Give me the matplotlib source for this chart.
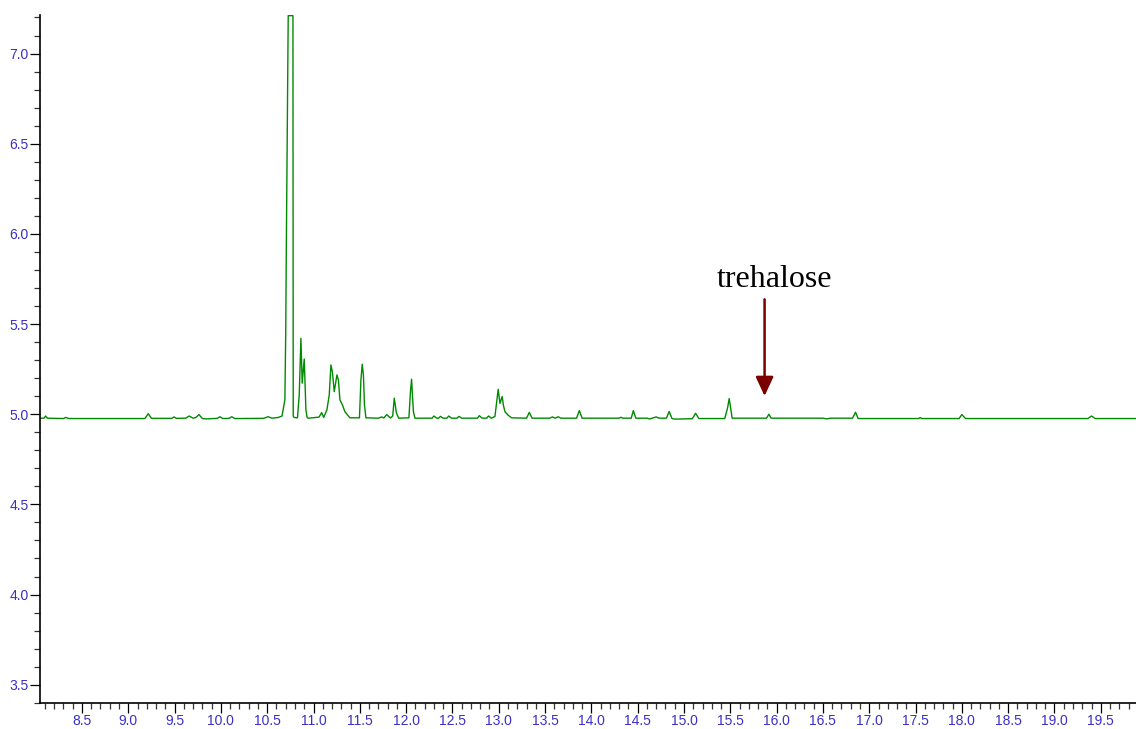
# -*- coding: utf-8 -*-
"""
GC chromatogram with the trehalose peak marked
- green trace, flat-topped solvent peak cut at the top of the axis
- blue tick labels, only left/bottom spines
"""

import matplotlib.pyplot as plt
from matplotlib.ticker import MultipleLocator

# retention time (min)
retention_time = [
    8.05, 8.09, 8.108, 8.125, 8.30, 8.324, 8.36, 9.18, 9.216, 9.25,
    9.47, 9.493, 9.52, 9.62, 9.658, 9.70, 9.73, 9.763, 9.80, 9.84,
    9.96, 9.99, 10.02, 10.09, 10.116, 10.15, 10.46, 10.511, 10.55, 10.62,
    10.66, 10.691, 10.700, 10.708, 10.718, 10.727, 10.778, 10.781, 10.79, 10.827,
    10.846, 10.864, 10.878, 10.900, 10.918, 10.932, 10.95, 11.06, 11.088, 11.11,
    11.145, 11.170, 11.188, 11.204, 11.224, 11.253, 11.269, 11.285, 11.312, 11.339,
    11.393, 11.496, 11.512, 11.526, 11.539, 11.550, 11.566, 11.70, 11.735, 11.76,
    11.79, 11.83, 11.855, 11.872, 11.895, 11.92, 12.03, 12.048, 12.059, 12.068,
    12.079, 12.095, 12.28, 12.30, 12.33, 12.35, 12.37, 12.40, 12.44, 12.46,
    12.49, 12.55, 12.57, 12.60, 12.77, 12.79, 12.82, 12.87, 12.89, 12.92,
    12.959, 12.980, 12.994, 13.013, 13.037, 13.050, 13.067, 13.100, 13.139, 13.30,
    13.33, 13.36, 13.55, 13.58, 13.61, 13.64, 13.67, 13.84, 13.87, 13.90,
    14.30, 14.32, 14.34, 14.43, 14.453, 14.48, 14.60, 14.63, 14.70, 14.73,
    14.81, 14.84, 14.87, 14.90, 15.09, 15.125, 15.16, 15.44, 15.471, 15.488,
    15.505, 15.52, 15.89, 15.917, 15.94, 16.50, 16.54, 16.58, 16.82, 16.852,
    16.88, 17.53, 17.55, 17.57, 17.97, 18.00, 18.04, 19.36, 19.40, 19.44,
    19.88,
]
signal = [
    4.978, 4.978, 4.990, 4.978, 4.976, 4.982, 4.976, 4.976, 5.003, 4.977,
    4.977, 4.985, 4.977, 4.978, 4.990, 4.978, 4.982, 4.998, 4.976, 4.974,
    4.977, 4.986, 4.976, 4.977, 4.986, 4.976, 4.977, 4.986, 4.978, 4.982,
    4.990, 5.080, 5.450, 6.020, 6.620, 7.210, 7.210, 4.990, 4.982, 4.980,
    5.107, 5.421, 5.172, 5.306, 5.024, 4.980, 4.978, 4.984, 5.009, 4.982,
    5.025, 5.107, 5.273, 5.234, 5.125, 5.218, 5.190, 5.080, 5.052, 5.014,
    4.980, 4.980, 5.190, 5.277, 5.218, 5.052, 4.980, 4.978, 4.985, 4.979,
    4.998, 4.979, 4.990, 5.089, 5.007, 4.978, 4.980, 5.135, 5.194, 5.107,
    5.013, 4.978, 4.978, 4.990, 4.978, 4.978, 4.988, 4.978, 4.978, 4.990,
    4.978, 4.978, 4.988, 4.978, 4.978, 4.992, 4.978, 4.978, 4.990, 4.978,
    4.988, 5.080, 5.138, 5.060, 5.098, 5.050, 5.014, 4.995, 4.980, 4.978,
    5.010, 4.978, 4.978, 4.985, 4.978, 4.986, 4.978, 4.978, 5.020, 4.978,
    4.978, 4.983, 4.978, 4.978, 5.020, 4.978, 4.978, 4.974, 4.985, 4.978,
    4.978, 5.015, 4.976, 4.973, 4.975, 5.005, 4.976, 4.976, 5.037, 5.087,
    5.030, 4.978, 4.978, 5.000, 4.978, 4.978, 4.974, 4.978, 4.978, 5.011,
    4.976, 4.976, 4.981, 4.976, 4.976, 4.998, 4.976, 4.976, 4.990, 4.976,
    4.976,
]

# annotation
label_text = 'trehalose'
label_pos = (15.98, 5.705)
arrow_tail = (15.87, 5.637)
arrow_tip = (15.87, 5.101)

TICK_COLOR = '#3a2ec8'
LINE_COLOR = '#008a00'


def create_chromatogram():
    fig = plt.figure(figsize=(11.36, 7.29), dpi=100)
    ax = fig.add_axes([0.0352, 0.036, 0.9648, 0.943])

    # trace
    ax.plot(retention_time, signal, color=LINE_COLOR, linewidth=1.0)

    # axis ranges
    ax.set_xlim(8.047, 19.88)
    ax.set_ylim(3.40, 7.212)

    # ticks: majors every 0.5, minors every 0.1
    ax.xaxis.set_major_locator(MultipleLocator(0.5))
    ax.xaxis.set_minor_locator(MultipleLocator(0.1))
    ax.yaxis.set_major_locator(MultipleLocator(0.5))
    ax.yaxis.set_minor_locator(MultipleLocator(0.1))
    ax.xaxis.set_major_formatter(plt.FormatStrFormatter('%.1f'))
    ax.yaxis.set_major_formatter(plt.FormatStrFormatter('%.1f'))

    for axis in (ax.xaxis, ax.yaxis):
        axis.set_tick_params(which='major', length=7.2, width=0.9,
                             color='black', labelcolor=TICK_COLOR,
                             labelsize=10, pad=1.0)
        axis.set_tick_params(which='minor', length=4.3, width=0.9,
                             color='#333333')
    for lbl in ax.get_xticklabels() + ax.get_yticklabels():
        lbl.set_family(['Liberation Sans', 'DejaVu Sans'])

    # spines
    ax.spines['top'].set_visible(False)
    ax.spines['right'].set_visible(False)
    ax.spines['left'].set_linewidth(1.2)
    ax.spines['bottom'].set_linewidth(1.2)

    # trehalose label and arrow
    ax.text(label_pos[0], label_pos[1], label_text,
            family=['Liberation Serif', 'DejaVu Serif'], fontsize=23,
            ha='center', va='baseline', color='black')
    ax.annotate('', xy=arrow_tip, xytext=arrow_tail,
                arrowprops=dict(arrowstyle='-|>,head_length=0.43,head_width=0.2',
                                color='#7a0000', lw=1.8,
                                shrinkA=0, shrinkB=0, mutation_scale=27))

    fig.savefig('out.png', dpi=100)
    plt.close(fig)


if __name__ == "__main__":
    create_chromatogram()
